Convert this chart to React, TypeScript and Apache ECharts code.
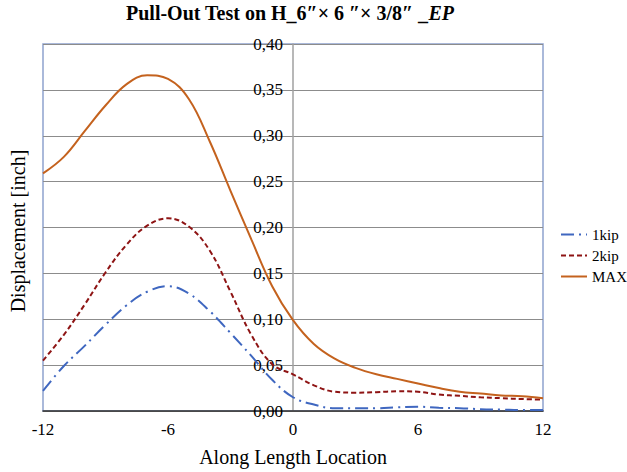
import React, { useEffect, useRef } from "react";
import * as echarts from "echarts";

const xs = [-12, -11, -10, -9, -8, -7, -6, -5, -4, -3, -2, -1, 0, 1, 2, 3, 4, 5, 6, 7, 8, 9, 10, 11, 12];
const kip1 = [0.022, 0.049, 0.071, 0.094, 0.115, 0.130, 0.136, 0.128, 0.109, 0.085, 0.060, 0.034, 0.015, 0.007, 0.003, 0.003, 0.003, 0.004, 0.0047, 0.0035, 0.003, 0.002, 0.0015, 0.001, 0.001];
const kip2 = [0.055, 0.083, 0.116, 0.151, 0.181, 0.202, 0.210, 0.201, 0.175, 0.130, 0.083, 0.051, 0.040, 0.028, 0.021, 0.020, 0.0205, 0.0215, 0.021, 0.018, 0.0165, 0.015, 0.014, 0.013, 0.0125];
const maxV = [0.259, 0.277, 0.305, 0.333, 0.356, 0.366, 0.362, 0.340, 0.294, 0.240, 0.187, 0.136, 0.099, 0.073, 0.057, 0.047, 0.040, 0.035, 0.030, 0.025, 0.021, 0.019, 0.017, 0.016, 0.014];
const seriesNames = ["1kip", "2kip", "MAX"];

const FONT = "'Liberation Serif', 'Times New Roman', serif";

export default function App() {
  const ref = useRef<HTMLDivElement>(null);
  useEffect(() => {
    if (!ref.current) return;
    const chart = echarts.init(ref.current, undefined, { renderer: "svg" });
    const pair = (arr: number[]) => xs.map((x, i) => [x, arr[i]]);
    chart.setOption({
      animation: false,
      backgroundColor: "#fff",
      textStyle: { fontFamily: FONT, color: "#000" },
      grid: {
        left: 43,
        right: 84,
        top: 44,
        bottom: 56,
        show: true,
        borderColor: "#8EA2CE",
        borderWidth: 1.5,
      },
      graphic: [
        {
          type: "text",
          left: 126,
          top: 3,
          style: {
            text: "{b|Pull-Out Test on H_6″× 6 ″× 3/8″ _}{i|EP}",
            rich: {
              b: { fontFamily: FONT, fontWeight: "bold", fontSize: 20, fill: "#000" },
              i: { fontFamily: FONT, fontWeight: "bold", fontStyle: "italic", fontSize: 20, fill: "#000" },
            },
          },
        },
        {
          type: "text",
          x: 18,
          y: 231,
          rotation: Math.PI / 2,
          style: {
            text: "Displacement [inch]",
            fontFamily: FONT,
            fontSize: 20,
            fill: "#000",
            textAlign: "center",
            textVerticalAlign: "middle",
          },
        },
      ],
      legend: {
        orient: "vertical",
        left: 560,
        top: 227,
        padding: 0,
        itemWidth: 26,
        itemHeight: 14,
        itemGap: 6,
        itemStyle: { opacity: 0 },
        textStyle: { fontFamily: FONT, fontSize: 15, color: "#000" },
        data: seriesNames,
      },
      xAxis: {
        type: "value",
        min: -12,
        max: 12,
        interval: 6,
        name: "Along Length Location",
        nameLocation: "middle",
        nameGap: 36,
        nameTextStyle: { fontFamily: FONT, fontSize: 20, color: "#000" },
        axisLine: { show: true, onZero: false, lineStyle: { color: "#333", width: 1.5 } },
        axisTick: { show: false },
        splitLine: { show: false },
        axisLabel: { fontFamily: FONT, fontSize: 17, color: "#000", margin: 10 },
      },
      yAxis: {
        type: "value",
        min: 0,
        max: 0.4,
        interval: 0.05,
        offset: -250,
        axisLine: { show: true, onZero: false, lineStyle: { color: "#A0A0A0", width: 1.5 } },
        axisTick: { show: false },
        splitLine: { show: true, lineStyle: { color: "#8C8C8C", width: 1.2 } },
        axisLabel: {
          fontFamily: FONT,
          fontSize: 17,
          color: "#000",
          margin: 10,
          formatter: (v: number) => v.toFixed(2).replace(".", ","),
        },
      },
      series: [
        {
          name: "1kip",
          type: "line",
          smooth: 0.4,
          symbol: "none",
          data: pair(kip1),
          lineStyle: { color: "#3F67C0", width: 2, type: [13, 5, 2, 5] },
          itemStyle: { color: "#3F67C0" },
        },
        {
          name: "2kip",
          type: "line",
          smooth: 0.4,
          symbol: "none",
          data: pair(kip2),
          lineStyle: { color: "#8E1414", width: 2, type: [5, 3] },
          itemStyle: { color: "#8E1414" },
        },
        {
          name: "MAX",
          type: "line",
          smooth: 0.4,
          symbol: "none",
          data: pair(maxV),
          lineStyle: { color: "#C4621E", width: 2 },
          itemStyle: { color: "#C4621E" },
        },
      ],
    });
    return () => chart.dispose();
  }, []);
  return <div ref={ref} style={{ width: 627, height: 472, position: "absolute", left: 0, top: 0 }} />;
}
